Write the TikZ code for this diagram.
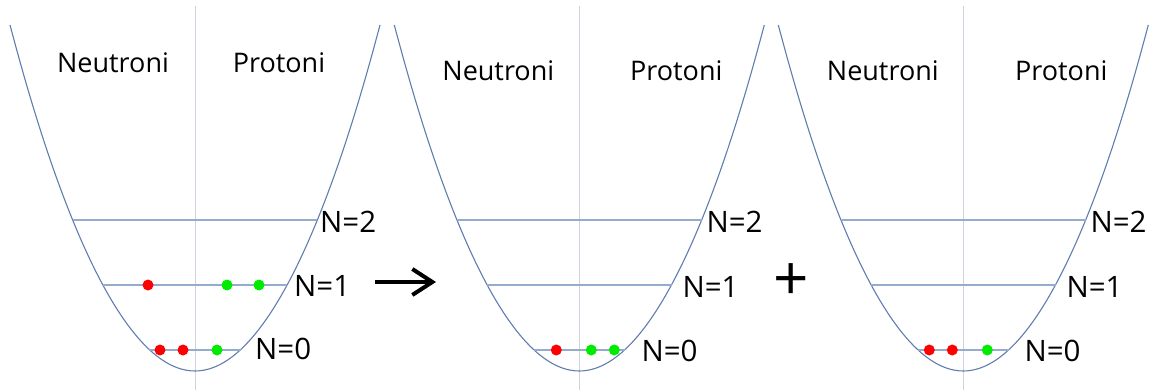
\documentclass[tikz,border=0pt]{standalone}
\usepackage{fontspec}
\setmainfont{Open Sans}
\usetikzlibrary{
    arrows.meta,
    positioning
}
\definecolor{wellblue}{RGB}{95,125,175}
\definecolor{levelblue}{RGB}{150,172,204}
\definecolor{axisgray}{RGB}{208,212,220}
\definecolor{neutronred}{RGB}{255,0,0}
\definecolor{protongreen}{RGB}{0,235,0}

\begin{document}
\begin{tikzpicture}[
    x=1pt,
    y=-1pt,
    well/.style={
        draw=wellblue,
        line width=1.1pt
    },
    level/.style={
        draw=levelblue,
        line width=1.6pt
    },
    axis/.style={
        draw=axisgray,
        line width=0.9pt
    },
    neutron/.style={
        circle,
        fill=neutronred,
        inner sep=0pt,
        minimum size=11pt
    },
    proton/.style={
        neutron,
        fill=protongreen
    },
    title/.style={
        font=\fontsize{27}{30}\selectfont,
        anchor=base,
        inner sep=0pt
    },
    shell/.style={
        font=\fontsize{29.5}{32}\selectfont,
        anchor=base west,
        inner sep=0pt
    },
    bigsign/.style={
        font=\fontsize{62}{64}\selectfont,
        inner sep=0pt
    },
    stepto/.style={
        -{Straight Barb[length=20pt,width=26pt]},
        line width=4pt
    }
]
\useasboundingbox (0,0) rectangle (1154,390);

% initial configuration
\begin{scope}[shift={(195,0)}]
\draw[axis] (0,6) -- (0,390);
\draw[well] (-185,25) parabola bend (0,371) (185,25);
\draw[level] (-122.2,220) -- (122.2,220);
\draw[level] (-92.2,285) -- (92.2,285);
\draw[level] (-45.6,350) -- (45.6,350);

\node[title] (neutA) at (-82,72.3) {Neutroni};
\node[title] (protA) at (84,72.3) {Protoni};

\node[shell] (shellA2) at (125,232.7) {N=2};
\node[shell] (shellA1) at (99,296.7) {N=1};
\node[shell] (shellA0) at (60,359) {N=0};

\node[neutron] (nA1) at (-47,285) {};
\node[proton] (pA1) at (32,285) {};
\node[proton] (pA2) at (64,285) {};
\node[neutron] (nA2) at (-35,350) {};
\node[neutron] (nA3) at (-12,350) {};
\node[proton] (pA3) at (22,350) {};
\end{scope}

\coordinate (arrowtail) at (375,282);
\coordinate (arrowhead) at (436,282);
\draw[stepto] (arrowtail) -- (arrowhead);

% first final configuration
\begin{scope}[shift={(579.3,0)}]
\draw[axis] (0,6) -- (0,390);
\draw[well] (-185,25) parabola bend (0,371) (185,25);
\draw[level] (-122.2,220) -- (122.2,220);
\draw[level] (-92.2,285) -- (92.2,285);
\draw[level] (-45.6,350) -- (45.6,350);

\node[title] (neutB) at (-81,81) {Neutroni};
\node[title] (protB) at (97,81) {Protoni};

\node[shell] (shellB2) at (127,232.7) {N=2};
\node[shell] (shellB1) at (103,297.5) {N=1};
\node[shell] (shellB0) at (62,361.5) {N=0};

\node[neutron] (nB1) at (-23,350) {};
\node[proton] (pB1) at (12,350) {};
\node[proton] (pB2) at (35,350) {};
\end{scope}

\node[bigsign] (plus) at (791,282) {+};

% second final configuration
\begin{scope}[shift={(963.3,0)}]
\draw[axis] (0,6) -- (0,390);
\draw[well] (-185,25) parabola bend (0,371) (185,25);
\draw[level] (-122.2,220) -- (122.2,220);
\draw[level] (-92.2,285) -- (92.2,285);
\draw[level] (-45.6,350) -- (45.6,350);

\node[title] (neutC) at (-80.5,81) {Neutroni};
\node[title] (protC) at (98,81) {Protoni};

\node[shell] (shellC2) at (127,232.7) {N=2};
\node[shell] (shellC1) at (103,297.5) {N=1};
\node[shell] (shellC0) at (61,361.5) {N=0};

\node[neutron] (nC1) at (-34,350) {};
\node[neutron] (nC2) at (-11,350) {};
\node[proton] (pC1) at (24,350) {};
\end{scope}

\end{tikzpicture}
\end{document}
